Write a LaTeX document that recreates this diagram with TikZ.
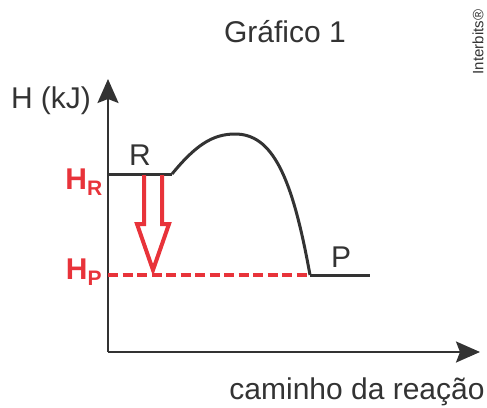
\documentclass[tikz,border=0pt]{standalone}
\usepackage{fontspec}
\setmainfont{Liberation Sans}
\usetikzlibrary{arrows.meta,positioning}
\definecolor{gdark}{HTML}{333333}
\definecolor{gred}{HTML}{E8333A}

\begin{document}
\begin{tikzpicture}[
  x=1pt, y=-1pt,
  axis/.style={gdark, line width=2.2pt, -{Stealth[length=24pt, width=21pt, inset=4pt]}},
  level/.style={gdark, line width=3pt},
  lbl/.style={text=gdark, font=\fontsize{30}{30}\selectfont, inner sep=0pt},
  hlbl/.style={text=gred, font=\fontsize{30}{30}\selectfont\bfseries, inner sep=0pt},
]
\useasboundingbox (0,0) rectangle (487,407);
\coordinate (origin) at (108,352);
\coordinate (ytop) at (108,79);
\coordinate (xend) at (480,352);
\coordinate (rleft) at (108,174);
\coordinate (rright) at (172,174);
\coordinate (peak) at (235,134);
\coordinate (pleft) at (310,275);
\coordinate (pright) at (370,275);
\coordinate (hpleft) at (108,275);
\draw[axis] (origin) -- (ytop);
\draw[axis] (origin) -- (xend);
\draw[level] (rleft) -- (rright);
\draw[level] (rright) .. controls (195,146) and (212,134) .. (peak)
  .. controls (272,134) and (292,175) .. (pleft);
\draw[level] (pleft) -- (pright);
\draw[gred, line width=4.5pt, dash pattern=on 10pt off 4.5pt] (hpleft) -- (pleft);
\draw[gred, line width=4pt, line join=miter]
  (144,175) -- (144,224) -- (137,224) -- (153,270) -- (169,224) -- (162,224) -- (162,175);
\node[lbl] (gtitle) at (285,32) {Gráfico 1};
\node[lbl] (hlabel) at (51,101) {H (kJ)};
\node[lbl] (rlabel) at (140,155) {R};
\node[lbl] (plabel) at (341,257) {P};
\node[lbl] (xlabel) at (357,392) {caminho da reação};
\node[hlbl] (hr) at (84,182) {H\textsubscript{R}};
\node[hlbl] (hp) at (84,272) {H\textsubscript{P}};
\node[text=gdark, font=\fontsize{15}{15}\selectfont, rotate=90, inner sep=0pt] (brand) at (478,42) {Interbits®};
\end{tikzpicture}
\end{document}
